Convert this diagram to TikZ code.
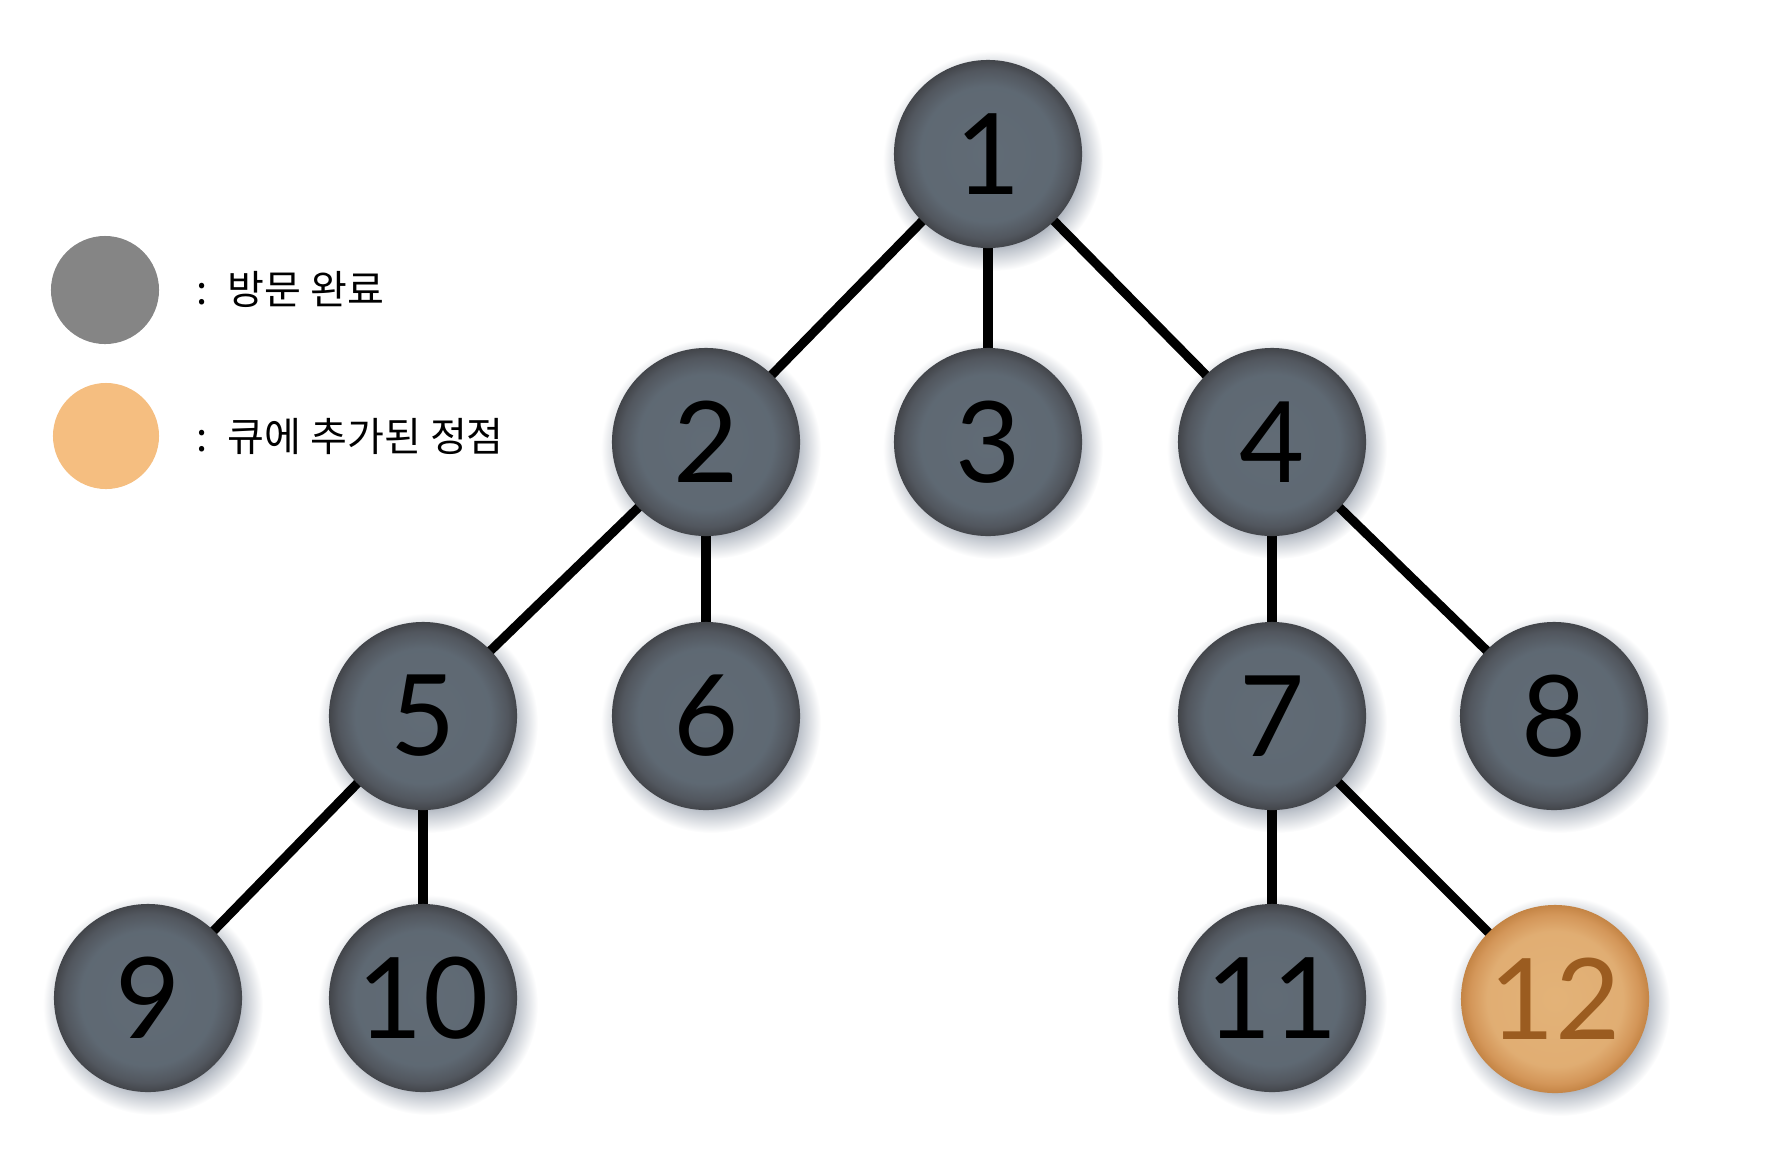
\documentclass[tikz,border=0pt]{standalone}
\usepackage{fontspec}
\setmainfont{Lato}
\newfontfamily\krfont{Noto Sans CJK KR}
\pgfdeclareradialshading{greyball}{\pgfpoint{0bp}{0bp}}{rgb(0bp)=(0.38,0.42,0.46); rgb(18bp)=(0.37,0.41,0.45); rgb(22.5bp)=(0.32,0.34,0.37); rgb(25bp)=(0.26,0.27,0.29); rgb(50bp)=(0.26,0.27,0.29)}
\pgfdeclareradialshading{orangeball}{\pgfpoint{0bp}{0bp}}{rgb(0bp)=(0.89,0.70,0.47); rgb(18bp)=(0.88,0.68,0.45); rgb(22.5bp)=(0.83,0.59,0.35); rgb(25bp)=(0.77,0.52,0.27); rgb(50bp)=(0.77,0.52,0.27)}
\pgfdeclareradialshading{softshadow}{\pgfpoint{0bp}{0bp}}{rgb(0bp)=(0.55,0.58,0.63); rgb(17bp)=(0.55,0.58,0.63); rgb(20.5bp)=(0.76,0.78,0.81); rgb(25bp)=(1,1,1); rgb(50bp)=(1,1,1)}
\definecolor{legendgrey}{RGB}{133,133,133}
\definecolor{legendorange}{RGB}{245,190,128}
\definecolor{numbrown}{RGB}{155,92,32}
\tikzset{
  vtx/.style={circle, minimum size=1.88cm, inner sep=0pt, shading=greyball, font=\fontsize{32}{32}\selectfont, text=black},
  qvtx/.style={vtx, shading=orangeball, text=numbrown},
  shd/.style={circle, minimum size=2.2cm, inner sep=0pt, shading=softshadow},
  edge/.style={line width=2.6pt, black},
  legtxt/.style={anchor=base west, font=\krfont\fontsize{11.4}{13}\selectfont, inner sep=0pt}
}
\begin{document}
\begin{tikzpicture}[x=0.01cm, y=-0.01cm]
\useasboundingbox (0,0) rectangle (1792,1148);
% coordinates
\coordinate (p1) at (988,154);
\coordinate (p2) at (706,442);
\coordinate (p3) at (988,442);
\coordinate (p4) at (1272,442);
\coordinate (p5) at (423,716);
\coordinate (p6) at (706,716);
\coordinate (p7) at (1272,716);
\coordinate (p8) at (1554,716);
\coordinate (p9) at (148,998);
\coordinate (p10) at (423,998);
\coordinate (p11) at (1272,998);
\coordinate (p12) at (1555,999);
% shadows
\foreach \i in {1,...,12} {
  \node[shd] (s\i) at ([shift={(5,7)}]p\i) {};
}
% edges
\draw[edge] (p1) -- (p2);
\draw[edge] (p1) -- (p3);
\draw[edge] (p1) -- (p4);
\draw[edge] (p2) -- (p5);
\draw[edge] (p2) -- (p6);
\draw[edge] (p4) -- (p7);
\draw[edge] (p4) -- (p8);
\draw[edge] (p5) -- (p9);
\draw[edge] (p5) -- (p10);
\draw[edge] (p7) -- (p11);
\draw[edge] (p7) -- (p12);
% nodes
\foreach \i in {1,...,11} {
  \node[vtx] (n\i) at (p\i) {\raisebox{-0.13cm}{\i}};
}
\node[qvtx] (n12) at (p12) {\raisebox{-0.13cm}{12}};
% legend
\node[circle, fill=legendgrey, minimum size=1.08cm, inner sep=0pt] (lg1) at (105,290) {};
\node[circle, fill=legendorange, minimum size=1.06cm, inner sep=0pt] (lg2) at (106,436) {};
\node[legtxt] (lc1) at (196,304) {:};
\node[legtxt] (lt1) at (227,304) {방문 완료};
\node[legtxt] (lc2) at (196,451) {:};
\node[legtxt] (lt2) at (227,451) {큐에 추가된 정점};
\end{tikzpicture}
\end{document}
